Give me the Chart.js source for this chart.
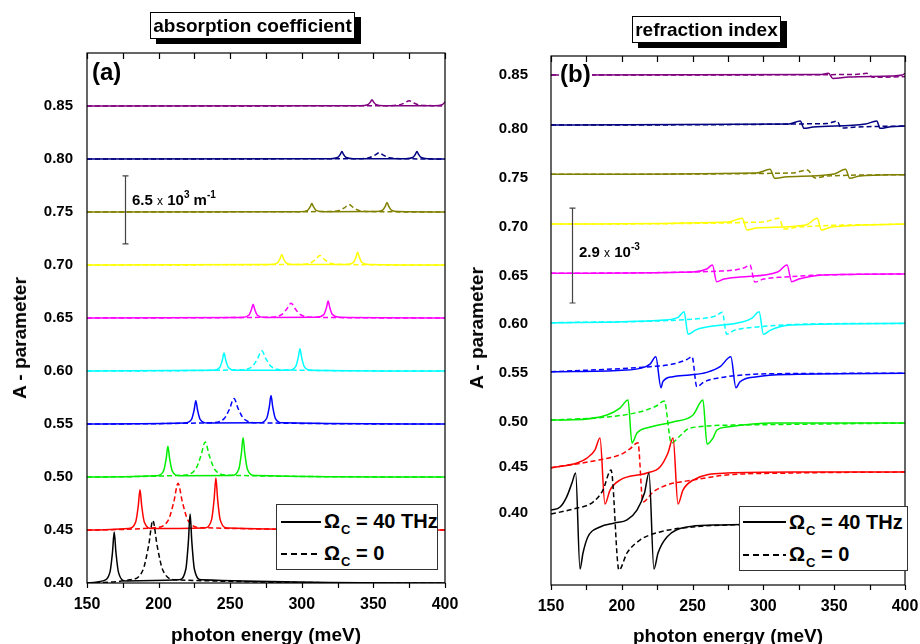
<!DOCTYPE html>
<html>
<head>
<meta charset="utf-8">
<script src="https://cdn.jsdelivr.net/npm/chart.js@4.4.0/dist/chart.umd.min.js"></script>
<style>
  body { margin: 0; background: #fff; font-family: "Liberation Sans", Arial, sans-serif; }
  #wrap { position: relative; width: 920px; height: 644px; overflow: hidden; }
  canvas { position: absolute; top: 0; }
  .boxTitle { position: absolute; background: #fff; border: 1px solid #000; box-shadow: 6px 5px 0 #000;
              font-weight: bold; font-size: 19px; line-height: 25px; text-align: center; white-space: nowrap; }
  .tag { position: absolute; font-weight: bold; font-size: 24px; line-height: 24px; background: #fff; padding: 0 1px; }
  .ytitle { position: absolute; font-weight: bold; font-size: 19px; line-height: 20px; white-space: nowrap;
            transform: translate(-50%, -50%) rotate(-90deg); }
  .xtitle { position: absolute; font-weight: bold; font-size: 19px; line-height: 19px; white-space: nowrap;
            transform: translateX(-50%); }
  .legend { position: absolute; background: #fff; border: 1px solid #333; }
  .lline { position: absolute; height: 1.5px; background: #000; }
  .lline.dash { background: repeating-linear-gradient(90deg, #000 0 6px, transparent 6px 10px); }
  .ltext { position: absolute; font-weight: bold; font-size: 20px; line-height: 22px; white-space: nowrap; }
  .ltext sub { font-size: 13px; vertical-align: 0; position: relative; top: 6px; margin-left: 1px; }
  .note { position: absolute; font-weight: bold; font-size: 15px; line-height: 15px; white-space: nowrap; }
  .note .x { font-weight: normal; font-size: 12px; }
  .note sup { font-size: 10px; vertical-align: 0; position: relative; top: -7px; }
</style>
</head>
<body>
<div id="wrap">
  <canvas id="absChart" width="460" height="644" style="left:0"></canvas>
  <canvas id="refrChart" width="460" height="644" style="left:460px"></canvas>

  <div class="boxTitle" style="left:150px;top:12px;width:203px;height:25px">absorption coefficient</div>
  <div class="boxTitle" style="left:632px;top:16px;width:147px;height:25px">refraction index</div>

  <div class="tag" style="left:91px;top:60px">(a)</div>
  <div class="tag" style="left:559px;top:62px">(b)</div>

  <div class="ytitle" style="left:20px;top:338px">A - parameter</div>
  <div class="ytitle" style="left:477px;top:328px">A - parameter</div>
  <div class="xtitle" style="left:266px;top:625px">photon energy (meV)</div>
  <div class="xtitle" style="left:728px;top:626px">photon energy (meV)</div>

  <div class="note" style="left:132px;top:192px">6.5 <span class="x">x</span> 10<sup>3</sup> m<sup>-1</sup></div>
  <div class="note" style="left:579px;top:244px">2.9 <span class="x">x</span> 10<sup>-3</sup></div>

  <div class="legend" style="left:276px;top:504px;width:160px;height:64px">
    <div class="lline" style="left:4px;top:16px;width:40px"></div>
    <div class="ltext" style="left:47px;top:5px">Ω<sub>C</sub> = 40 THz</div>
    <div class="lline dash" style="left:4px;top:48px;width:40px"></div>
    <div class="ltext" style="left:47px;top:37px">Ω<sub>C</sub> = 0</div>
  </div>
  <div class="legend" style="left:739px;top:506px;width:167px;height:63px">
    <div class="lline" style="left:3px;top:14px;width:43px"></div>
    <div class="ltext" style="left:49px;top:4px">Ω<sub>C</sub> = 40 THz</div>
    <div class="lline dash" style="left:3px;top:47px;width:43px"></div>
    <div class="ltext" style="left:49px;top:36px">Ω<sub>C</sub> = 0</div>
  </div>
</div>

<script>
// A-parameter of each stacked curve, bottom to top
const rowA = [0.40, 0.45, 0.50, 0.55, 0.60, 0.65, 0.70, 0.75, 0.80, 0.85];
const rowLabels = ['0.40', '0.45', '0.50', '0.55', '0.60', '0.65', '0.70', '0.75', '0.80', '0.85'];
const rowColors = ['#000000', '#ff0000', '#00ee00', '#0000ff', '#00ffff',
                   '#ff00ff', '#ffff00', '#808000', '#000080', '#800080'];

const energyLabels = [150, 200, 250, 300, 350, 400];
const energyMarks = [150, 175, 200, 225, 250, 275, 300, 325, 350, 375, 400];

// absorption, [meV, rise above the row baseline]; solid = Omega_C 40 THz, dashed = Omega_C 0
const absSolid = [
  [[150,0],[161,0.002],[166,0.010],[167.8,0.029],[169,0.048],[170.2,0.029],[172,0.010],[177,0.002],
   [214,0.003],[219,0.013],[220.8,0.039],[222,0.065],[223.2,0.039],[225,0.013],[230,0.003],[400,0]],
  [[150,0],[179,0.0015],[184,0.0076],[185.8,0.0228],[187,0.038],[188.2,0.0228],[190,0.0076],[195,0.0015],
   [232,0.002],[237,0.0098],[238.8,0.0294],[240,0.049],[241.2,0.0294],[243,0.0098],[248,0.002],[400,0]],
  [[150,0],[198.5,0.0012],[203.5,0.0058],[205.3,0.0174],[206.5,0.029],[207.7,0.0174],[209.5,0.0058],[214.5,0.0012],
   [251,0.0015],[256,0.0074],[257.8,0.0222],[259,0.037],[260.2,0.0222],[262,0.0074],[267,0.0015],[400,0]],
  [[150,0],[218,0.0009],[223,0.0044],[224.8,0.0132],[226,0.022],[227.2,0.0132],[229,0.0044],[234,0.0009],
   [270.5,0.0011],[275.5,0.0054],[277.3,0.0162],[278.5,0.027],[279.7,0.0162],[281.5,0.0054],[286.5,0.0011],[400,0]],
  [[150,0],[237.7,0.0007],[242.7,0.0034],[244.5,0.0102],[245.7,0.017],[246.9,0.0102],[248.7,0.0034],[253.7,0.0007],
   [290.7,0.0008],[295.7,0.0042],[297.5,0.0126],[298.7,0.021],[299.9,0.0126],[301.7,0.0042],[306.7,0.0008],[400,0]],
  [[150,0],[258,0.0005],[263,0.0026],[264.8,0.0078],[266,0.013],[267.2,0.0078],[269,0.0026],[274,0.0005],
   [310.4,0.0006],[315.4,0.0032],[317.2,0.0096],[318.4,0.016],[319.6,0.0096],[321.4,0.0032],[326.4,0.0006],[400,0]],
  [[150,0],[278,0.0004],[283,0.002],[284.8,0.006],[286,0.010],[287.2,0.006],[289,0.002],[294,0.0004],
   [331,0.0005],[336,0.0024],[337.8,0.0072],[339,0.012],[340.2,0.0072],[342,0.0024],[347,0.0005],[400,0]],
  [[150,0],[299,0.0003],[304,0.0016],[305.8,0.0048],[307,0.008],[308.2,0.0048],[310,0.0016],[315,0.0003],
   [351.5,0.0004],[356.5,0.0018],[358.3,0.0054],[359.5,0.009],[360.7,0.0054],[362.5,0.0018],[367.5,0.0004],[400,0]],
  [[150,0],[320,0.0003],[325,0.0014],[326.8,0.0042],[328,0.007],[329.2,0.0042],[331,0.0014],[336,0.0003],
   [372.4,0.0003],[377.4,0.0014],[379.2,0.0042],[380.4,0.007],[381.6,0.0042],[383.4,0.0014],[388.4,0.0003],[400,0]],
  [[150,0],[341,0.0002],[346,0.0012],[347.8,0.0036],[349,0.006],[350.2,0.0036],[352,0.0012],[357,0.0002],
   [393,0.0002],[398,0.0012],[399.8,0.0036],[400,0.004]]
];
const absDashed = [
  [[150,0],[180,0.003],[189,0.012],[193,0.035],[196,0.059],[199,0.035],[203,0.012],[212,0.003],[400,0]],
  [[150,0],[197.6,0.0022],[206.6,0.0088],[210.6,0.0264],[213.6,0.044],[216.6,0.0264],[220.6,0.0088],[229.6,0.0022],[400,0]],
  [[150,0],[216.5,0.0017],[225.5,0.0066],[229.5,0.0198],[232.5,0.033],[235.5,0.0198],[239.5,0.0066],[248.5,0.0017],[400,0]],
  [[150,0],[236.6,0.0012],[245.6,0.0048],[249.6,0.0144],[252.6,0.024],[255.6,0.0144],[259.6,0.0048],[268.6,0.0012],[400,0]],
  [[150,0],[256,0.001],[265,0.0038],[269,0.0114],[272,0.019],[275,0.0114],[279,0.0038],[288,0.001],[400,0]],
  [[150,0],[276.5,0.0007],[285.5,0.0028],[289.5,0.0084],[292.5,0.014],[295.5,0.0084],[299.5,0.0028],[308.5,0.0007],[400,0]],
  [[150,0],[296.7,0.0005],[305.7,0.0018],[309.7,0.0054],[312.7,0.009],[315.7,0.0054],[319.7,0.0018],[328.7,0.0005],[400,0]],
  [[150,0],[317,0.0004],[326,0.0014],[330,0.0042],[333,0.007],[336,0.0042],[340,0.0014],[349,0.0004],[400,0]],
  [[150,0],[338,0.0003],[347,0.0012],[351,0.0036],[354,0.006],[357,0.0036],[361,0.0012],[370,0.0003],[400,0]],
  [[150,0],[359,0.0003],[368,0.001],[372,0.003],[375,0.005],[378,0.003],[382,0.001],[391,0.0003],[400,0]]
];

// refraction index curves, [meV, level on the A axis]
const refrTickPos = [0.400, 0.448, 0.494, 0.544, 0.595, 0.644, 0.694, 0.745, 0.795, 0.850];
const refrSolid = [
  [[150,0.4034],[156.4,0.4065],[161,0.4167],[164.8,0.4311],[167.4,0.4414],[170.5,0.3428],[172.6,0.3593],[176,0.3757],
   [184.6,0.3860],[195,0.3900],[203.7,0.3932],[210.7,0.4034],[216,0.4209],[219.2,0.4414],[222.7,0.3428],[225.6,0.3593],
   [231.9,0.3757],[246,0.3860],[264.4,0.3880],[300,0.3890],[400,0.3901]],
  [[150,0.4468],[168.4,0.4517],[175.4,0.4568],[181,0.4650],[184.6,0.4773],[188.1,0.4096],[191.7,0.4239],[198.7,0.4342],
   [217.8,0.4414],[227,0.4476],[232.6,0.4619],[236.2,0.4773],[239.7,0.4096],[243.2,0.4239],[250.3,0.4342],[274.3,0.4414],
   [321,0.4424],[400,0.4424]],
  [[150,0.4958],[165.5,0.4960],[189.5,0.5010],[198.7,0.5081],[204.4,0.5164],[207.2,0.4722],[210.7,0.4825],[220,0.4886],
   [236.2,0.4938],[250.3,0.5010],[257.3,0.5164],[260.2,0.4712],[264.4,0.4773],[267.2,0.4856],[274.3,0.4886],[306.8,0.4927],
   [400,0.4927]],
  [[150,0.5454],[200,0.5470],[213,0.5489],[220,0.5533],[224,0.5608],[227.7,0.5290],[229,0.5352],[236,0.5403],[248,0.5420],
   [260,0.5448],[269.4,0.5506],[277,0.5608],[280.6,0.5290],[283.5,0.5352],[295.5,0.5403],[318.8,0.5427],[400,0.5438]],
  [[150,0.5957],[230,0.5985],[240,0.6016],[244,0.6070],[246.8,0.5838],[252,0.5882],[260,0.5913],[285,0.5965],[292,0.6006],
   [297,0.6070],[300,0.5838],[305,0.5882],[319,0.5934],[400,0.5951]],
  [[150,0.6465],[250,0.6478],[260,0.6509],[264,0.6550],[267,0.6379],[272,0.6406],[283.5,0.6427],[310,0.6478],[316.7,0.6550],
   [320,0.6379],[325,0.6406],[342,0.6447],[400,0.6458]],
  [[150,0.6971],[275,0.6992],[285,0.7030],[288.5,0.6910],[295,0.6930],[330,0.6961],[338,0.7030],[341,0.6910],[348,0.6940],
   [400,0.6971]],
  [[150,0.7482],[295,0.7495],[304.7,0.7533],[308,0.7441],[315,0.7454],[350,0.7485],[358,0.7533],[361,0.7441],[368,0.7464],
   [400,0.7478]],
  [[150,0.7988],[318,0.7998],[326,0.8029],[328.7,0.7954],[335,0.7967],[372,0.7998],[380,0.8029],[382.5,0.7954],[390,0.7971],
   [400,0.7978]],
  [[150,0.8501],[340,0.8507],[346,0.8519],[349,0.8467],[360,0.8481],[390,0.8491],[398,0.8501],[400,0.8519]]
];
const refrDashed = [
  [[150,0.3993],[165.5,0.4044],[179.7,0.4116],[186.7,0.4239],[192.4,0.4445],[198,0.3418],[203.7,0.3593],[213,0.3727],
   [227,0.3809],[250,0.3860],[274,0.3880],[400,0.3901]],
  [[150,0.4468],[184.6,0.4550],[198.7,0.4601],[205.8,0.4663],[211.4,0.4725],[214.9,0.4116],[222,0.4219],[231.9,0.4291],
   [250.3,0.4342],[274,0.4393],[320,0.4414],[400,0.4424]],
  [[150,0.4958],[190,0.4990],[213,0.5043],[224,0.5100],[230,0.5153],[235,0.4722],[241,0.4794],[248,0.4876],[283,0.4907],
   [400,0.4927]],
  [[150,0.5454],[220,0.5506],[236,0.5533],[246,0.5580],[249.6,0.5608],[253,0.5300],[258,0.5349],[274,0.5403],[307,0.5434],
   [400,0.5438]],
  [[150,0.5957],[250,0.5995],[266,0.6026],[271,0.6064],[274,0.5841],[280,0.5882],[295.5,0.5913],[330,0.5944],[400,0.5951]],
  [[150,0.6465],[270,0.6488],[286,0.6519],[290.5,0.6550],[294,0.6375],[300,0.6406],[315,0.6427],[340,0.6447],[400,0.6458]],
  [[150,0.6971],[300,0.6992],[311,0.7030],[314.5,0.6920],[325,0.6940],[400,0.6971]],
  [[150,0.7482],[320,0.7495],[331,0.7526],[336.5,0.7444],[345,0.7464],[400,0.7478]],
  [[150,0.7988],[345,0.8003],[352,0.8029],[355,0.7957],[365,0.7967],[400,0.7978]],
  [[150,0.8501],[365,0.8507],[373,0.8519],[377.5,0.8478],[390,0.8481],[400,0.8486]]
];

// vertical scale bars (meV position, A from, A to)
const absBar = { x: 176.5, from: 0.720, to: 0.784 };
const refrBar = { x: 164.8, from: 0.616, to: 0.7135 };

Chart.defaults.font.family = '"Liberation Sans", Arial, sans-serif';
Chart.defaults.font.weight = 'bold';
Chart.defaults.color = '#000';

// frame around the plot, tick marks on top/bottom and the scale bar
const framePlugin = {
  id: 'frame',
  afterDraw(chart, args, opts) {
    const { ctx, chartArea: a, scales } = chart;
    ctx.save();
    ctx.strokeStyle = '#000';
    ctx.lineWidth = 1.2;
    ctx.strokeRect(a.left, a.top, a.right - a.left, a.bottom - a.top);
    ctx.beginPath();
    energyMarks.forEach(v => {
      const px = Math.round(scales.x.getPixelForValue(v)) + 0.5;
      ctx.moveTo(px, a.bottom); ctx.lineTo(px, a.bottom + 5);
      ctx.moveTo(px, a.top); ctx.lineTo(px, a.top + 6);
    });
    ctx.stroke();

    const bar = opts.bar;
    if (bar) {
      const bx = Math.round(scales.x.getPixelForValue(bar.x)) + 0.5;
      const y1 = scales.y.getPixelForValue(bar.from);
      const y2 = scales.y.getPixelForValue(bar.to);
      ctx.strokeStyle = '#444';
      ctx.lineWidth = 1.2;
      ctx.beginPath();
      ctx.moveTo(bx, y1); ctx.lineTo(bx, y2);
      ctx.moveTo(bx - 3, y1); ctx.lineTo(bx + 3, y1);
      ctx.moveTo(bx - 3, y2); ctx.lineTo(bx + 3, y2);
      ctx.stroke();
    }
    ctx.restore();
  }
};

function makeDatasets(solid, dashed, offsets) {
  const sets = [];
  solid.forEach((curve, i) => {
    const off = offsets ? offsets[i] : 0;
    sets.push({
      data: curve.map(p => ({ x: p[0], y: p[1] + off })),
      borderColor: rowColors[i], borderWidth: 1.5,
      pointRadius: 0, cubicInterpolationMode: 'monotone', fill: false
    });
    sets.push({
      data: dashed[i].map(p => ({ x: p[0], y: p[1] + off })),
      borderColor: rowColors[i], borderWidth: 1.5, borderDash: [5, 3],
      pointRadius: 0, cubicInterpolationMode: 'monotone', fill: false
    });
  });
  return sets;
}

function createChart(id, datasets, cfg) {
  const ctx = document.getElementById(id).getContext('2d');
  return new Chart(ctx, {
    type: 'line',
    data: { datasets: datasets },
    options: {
      responsive: false,
      animation: false,
      layout: { padding: { left: 0, right: cfg.padRight, top: cfg.top, bottom: 0 } },
      plugins: { legend: { display: false }, tooltip: { enabled: false }, frame: { bar: cfg.bar } },
      scales: {
        x: {
          type: 'linear', min: 150, max: 400,
          grid: { display: false, drawTicks: false }, border: { display: false },
          afterBuildTicks: s => { s.ticks = energyLabels.map(v => ({ value: v })); },
          afterFit: s => { s.height = cfg.xHeight; s.paddingLeft = 0; s.paddingRight = 0; },
          ticks: { autoSkip: false, maxRotation: 0, padding: 12, font: { size: 16, weight: 'bold' } }
        },
        y: {
          type: 'linear', min: cfg.yMin, max: cfg.yMax,
          grid: { display: false, drawTicks: false }, border: { display: false },
          afterBuildTicks: s => { s.ticks = cfg.tickPos.map(v => ({ value: v })); },
          afterFit: s => { s.width = cfg.yWidth; s.paddingTop = 0; s.paddingBottom = 0; },
          ticks: {
            autoSkip: false, padding: cfg.labelPad, font: { size: 15, weight: 'bold' },
            callback: (v, i) => rowLabels[i]
          }
        }
      }
    },
    plugins: [framePlugin]
  });
}

createChart('absChart', makeDatasets(absSolid, absDashed, rowA), {
  padRight: 15, top: 53, xHeight: 61, yWidth: 87, labelPad: 14,
  yMin: 0.40, yMax: 0.90, tickPos: rowA, bar: absBar
});

createChart('refrChart', makeDatasets(refrSolid, refrDashed, null), {
  padRight: 15, top: 56, xHeight: 59, yWidth: 91, labelPad: 23,
  yMin: 0.3264, yMax: 0.8697, tickPos: refrTickPos, bar: refrBar
});
</script>
</body>
</html>
